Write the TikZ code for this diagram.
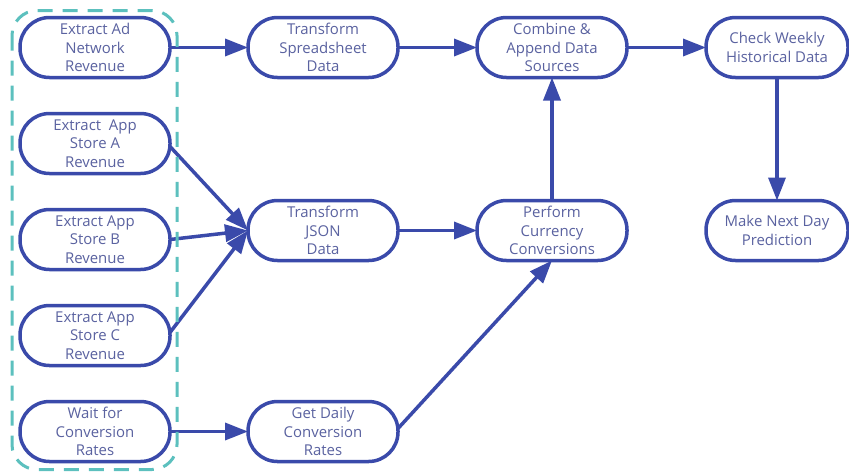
\documentclass[tikz,border=0pt]{standalone}
\usepackage{fontspec}
\setmainfont{Open Sans}
\usetikzlibrary{positioning, arrows.meta, calc}
\definecolor{flowblue}{RGB}{58,74,170}
\definecolor{flowtext}{RGB}{90,98,160}
\definecolor{grpteal}{RGB}{92,192,190}
\tikzset{
  arr/.style={-{Triangle[length=4.6mm,width=3.4mm]}, line width=0.7mm, draw=flowblue},
  blk/.style={draw=flowblue, line width=0.7mm, rounded corners=5.9mm, minimum width=30mm,
    minimum height=12mm, align=center, inner sep=0pt, outer sep=0pt, text=flowtext, fill=white},
  grp/.style={draw=grpteal, line width=0.6mm, dash pattern=on 3mm off 2mm, rounded corners=5mm}
}

\begin{document}
\begin{tikzpicture}[font=\fontsize{8.5}{10.5}\selectfont]
\useasboundingbox (0,0) rectangle (169.8mm,-94.6mm);
% sources
\node[blk] (ad) at (19mm,-9.5mm) {Extract Ad\\Network\\Revenue};
\node[blk, below=7.2mm of ad] (appa) {Extract\ \ App\\Store A\\Revenue};
\node[blk, below=7.2mm of appa] (appb) {Extract App\\Store B\\Revenue};
\node[blk, below=7.2mm of appb] (appc) {Extract App\\Store C\\Revenue};
\node[blk, below=7.2mm of appc] (wait) {Wait for\\Conversion\\Rates};
% transforms
\node[blk, right=15.6mm of ad] (sheet) {Transform\\Spreadsheet\\Data};
\node[blk, below=24.6mm of sheet] (json) {Transform\\JSON\\Data};
\node[blk, right=15.6mm of wait] (daily) {Get Daily\\Conversion\\Rates};
\node[blk, right=15.8mm of sheet] (comb) {Combine \&\\Append Data\\Sources};
\node[blk, right=15.8mm of json] (perf) {Perform\\Currency\\Conversions};
\node[blk, minimum width=28.4mm, right=15.8mm of comb] (check) {Check Weekly\\Historical Data};
\node[blk, minimum width=28.4mm, below=24.6mm of check] (pred) {Make Next Day\\Prediction};
% connectors
\draw[arr] (ad) -- (sheet);
\draw[arr] (sheet) -- (comb);
\draw[arr] (comb) -- (check);
\draw[arr] (check) -- (pred);
\draw[arr] ($(appa.east)+(0,-0.6mm)$) -- (json.west);
\draw[arr] (appb.east) -- (json.west);
\draw[arr] ($(appc.east)+(0,0.6mm)$) -- (json.west);
\draw[arr] (json) -- (perf);
\draw[arr] (perf) -- (comb);
\draw[arr] (wait) -- (daily);
\draw[arr] ($(daily.east)+(0,0.6mm)$) -- (perf.south);
% extraction group
\draw[grp] ($(ad.north west)+(-1.6mm,1.4mm)$) rectangle ($(wait.south east)+(1.4mm,-1.6mm)$);
\end{tikzpicture}
\end{document}
